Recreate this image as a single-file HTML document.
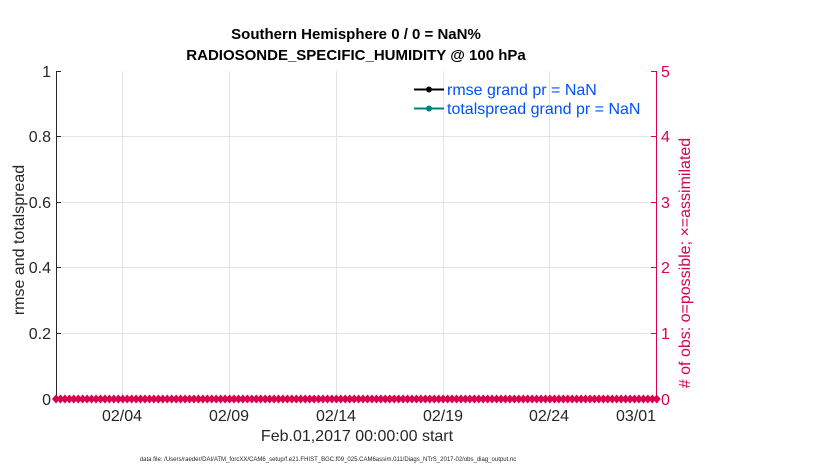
<!DOCTYPE html>
<html><head><style>
body{margin:0;background:#fff;}
svg text{font-family:"Liberation Sans",Arial,sans-serif;}
</style></head><body>
<svg width="830" height="470" xmlns="http://www.w3.org/2000/svg">
<rect width="830" height="470" fill="#fff"/>
<g stroke="#e3e3e3" stroke-width="1">
<line x1="122.5" y1="71" x2="122.5" y2="399"/>
<line x1="229.5" y1="71" x2="229.5" y2="399"/>
<line x1="336.5" y1="71" x2="336.5" y2="399"/>
<line x1="443.5" y1="71" x2="443.5" y2="399"/>
<line x1="549.5" y1="71" x2="549.5" y2="399"/>
<line x1="56" y1="136.5" x2="656" y2="136.5"/>
<line x1="56" y1="202.5" x2="656" y2="202.5"/>
<line x1="56" y1="267.5" x2="656" y2="267.5"/>
<line x1="56" y1="333.5" x2="656" y2="333.5"/>
</g>
<line x1="56.5" y1="71" x2="56.5" y2="399" stroke="#262626"/>
<line x1="56" y1="399.5" x2="656" y2="399.5" stroke="#262626"/>
<line x1="656.5" y1="71" x2="656.5" y2="399" stroke="#d8004f"/>
<g stroke="#262626">
<line x1="56" y1="71.5" x2="61" y2="71.5"/><line x1="56" y1="136.5" x2="61" y2="136.5"/><line x1="56" y1="202.5" x2="61" y2="202.5"/><line x1="56" y1="267.5" x2="61" y2="267.5"/><line x1="56" y1="333.5" x2="61" y2="333.5"/>
</g>
<g stroke="#d8004f">
<line x1="651" y1="71.5" x2="656" y2="71.5"/><line x1="651" y1="136.5" x2="656" y2="136.5"/><line x1="651" y1="202.5" x2="656" y2="202.5"/><line x1="651" y1="267.5" x2="656" y2="267.5"/><line x1="651" y1="333.5" x2="656" y2="333.5"/>
</g>
<g font-size="16" fill="#262626" text-anchor="end">
<text x="51" y="77">1</text><text x="51" y="142">0.8</text><text x="51" y="208">0.6</text><text x="51" y="273">0.4</text><text x="51" y="339">0.2</text><text x="51" y="405">0</text>
</g>
<g font-size="16" fill="#d8004f">
<text x="661" y="77">5</text><text x="661" y="142">4</text><text x="661" y="208">3</text><text x="661" y="273">2</text><text x="661" y="339">1</text><text x="661" y="405">0</text>
</g>
<g font-size="16" fill="#262626" text-anchor="middle">
<text x="122" y="421">02/04</text><text x="229" y="421">02/09</text><text x="336" y="421">02/14</text><text x="443" y="421">02/19</text><text x="549" y="421">02/24</text><text x="636" y="421">03/01</text>
<text x="357" y="441">Feb.01,2017 00:00:00 start</text>
</g>
<text x="24" y="240" font-size="16" fill="#262626" text-anchor="middle" transform="rotate(-90 24 240)">rmse and totalspread</text>
<text x="690" y="263" font-size="16" fill="#d8004f" text-anchor="middle" transform="rotate(-90 690 263)"># of obs: o=possible; ×=assimilated</text>
<g font-size="15" font-weight="bold" fill="#000" text-anchor="middle">
<text x="356" y="39">Southern Hemisphere 0 / 0 = NaN%</text>
<text x="356" y="60">RADIOSONDE_SPECIFIC_HUMIDITY @ 100 hPa</text>
</g>
<line x1="414" y1="89.5" x2="444" y2="89.5" stroke="#000" stroke-width="2"/><circle cx="429" cy="89.5" r="3" fill="#000"/>
<line x1="414" y1="108.5" x2="444" y2="108.5" stroke="#008080" stroke-width="2"/><circle cx="429" cy="108.5" r="3" fill="#008080"/>
<g font-size="16" fill="#0050ff">
<text x="447" y="95">rmse grand pr = NaN</text>
<text x="447" y="114">totalspread grand pr = NaN</text>
</g>
<line x1="56" y1="399" x2="656" y2="399" stroke="#d8004f" stroke-width="3"/>
<g id="m" fill="#d8004f"></g>
<text x="328" y="461" font-size="6" fill="#262626" text-anchor="middle">data file: /Users/raeder/DAI/ATM_forcXX/CAM6_setup/f.e21.FHIST_BGC.f09_025.CAM6assim.011/Diags_NTrS_2017-02/obs_diag_output.nc</text>
</svg>
<script>
var g=document.getElementById('m'),s='';
for(var x=56;x<=657;x+=4.45){s+='<path d="M'+(x-4)+' 399 L'+x+' 394.5 L'+(x+4)+' 399 L'+x+' 403.5Z"/>';}
g.innerHTML=s;
</script>
</body></html>
